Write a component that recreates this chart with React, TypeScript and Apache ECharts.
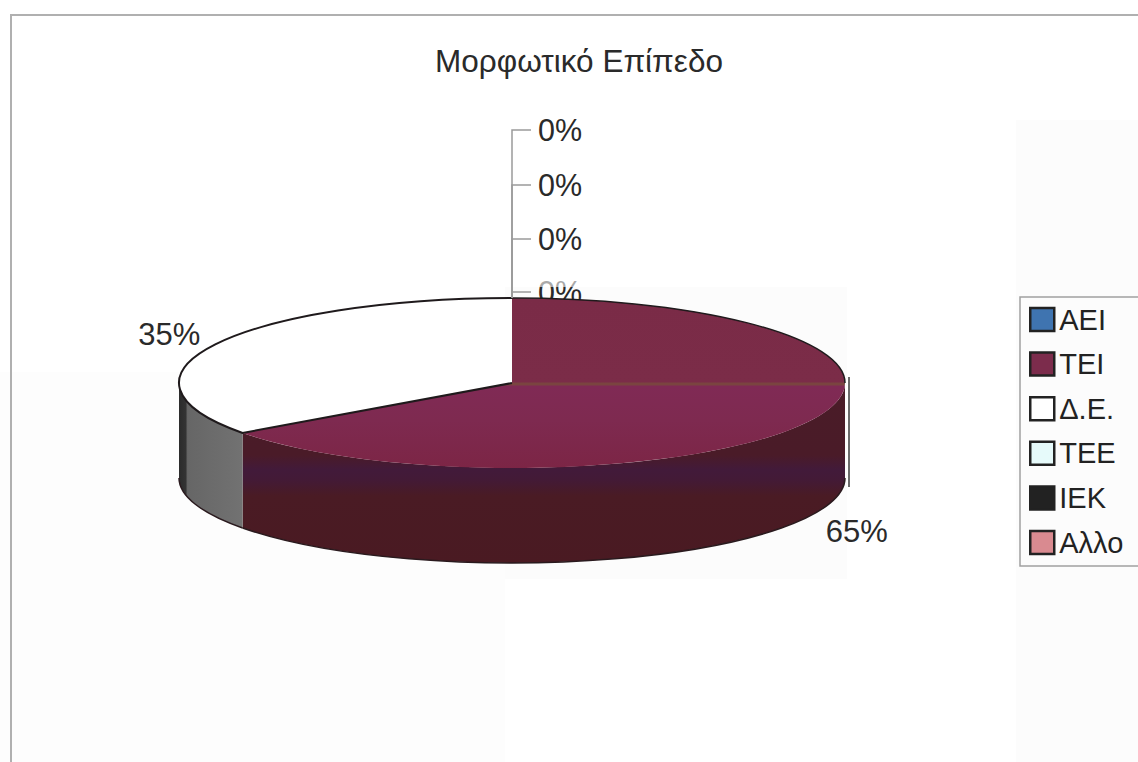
import React, { useEffect, useRef } from "react";
import * as echarts from "echarts";

// Education level shares, in percent
const categories = ["ΑΕΙ", "ΤΕΙ", "Δ.Ε.", "ΤΕΕ", "ΙΕΚ", "Αλλο"];
const shares = [0, 65, 35, 0, 0, 0];
const legendColors = ["#3f74b0", "#7c2c4c", "#ffffff", "#e6fafa", "#222222", "#d98a90"];
const chartTitle = "Μορφωτικό Επίπεδο";

// Disc geometry: a flattened circle with a front wall
const CX = 512;
const CY = 383;
const RX = 333;
const RY = 85;
const DEPTH = 95;
const FONT = "'Liberation Sans', Arial, sans-serif";
const zeroLabelYs = [292, 239, 185, 130];

const total = shares.reduce((a, b) => a + b, 0);
const rim = (deg: number, drop = 0): [number, number] => {
  const r = (deg * Math.PI) / 180;
  return [CX + RX * Math.sin(r), CY - RY * Math.cos(r) + drop];
};
const fmt = (p: [number, number]) => `${p[0].toFixed(2)} ${p[1].toFixed(2)}`;

const vGrad = (y0: number, y1: number, stops: [number, string][]) =>
  new echarts.graphic.LinearGradient(
    0, y0, 0, y1,
    stops.map(([y, color]) => ({ offset: (y - y0) / (y1 - y0), color })),
    true
  );

const maroonTop = () =>
  vGrad(298, 470, [
    [298, "#7a2b47"], [382, "#7b2c48"], [383, "#7a4440"], [385, "#7a4440"],
    [386, "#802a55"], [420, "#7e2a50"], [470, "#7c2545"],
  ]);
const maroonWall = () =>
  vGrad(380, 565, [
    [380, "#4a1c28"], [455, "#4a1b28"], [470, "#421a3a"], [480, "#431a36"],
    [496, "#4a1b24"], [565, "#4a1a22"],
  ]);
const greyWall = () =>
  new echarts.graphic.LinearGradient(
    180, 0, 243, 0,
    [
      { offset: 0, color: "#2c2c2c" },
      { offset: 0.09, color: "#333333" },
      { offset: 0.12, color: "#666666" },
      { offset: 1, color: "#727272" },
    ],
    true
  );

function renderSlice(index: number, api: any) {
  const value = api.value(0) as number;
  const start = (shares.slice(0, index).reduce((a, b) => a + b, 0) / total) * 360;
  const children: any[] = [];

  if (value === 0) {
    // Empty categories are listed on a leader above the disc
    const rank = shares.slice(0, index).filter((v) => v === 0).length;
    const y = zeroLabelYs[rank];
    children.push({
      type: "polyline",
      shape: { points: [[CX, CY - RY], [CX, y], [CX + 19, y]] },
      style: { stroke: "#9a9a9a", lineWidth: 1.5, fill: "none" },
    });
    children.push({
      type: "text",
      x: CX + 26,
      y,
      style: {
        text: `${value}%`, fontSize: 30.5, fontFamily: FONT, fill: "#2a2a2a",
        align: "left", verticalAlign: "middle",
      },
    });
    return { type: "group", children };
  }

  const end = start + (value / total) * 360;
  const large = end - start > 180 ? 1 : 0;
  const isFirstFilled = start === 0;

  // Front wall, only where the slice faces the viewer
  const a = Math.max(start, 90);
  const b = Math.min(end, 270);
  if (b > a) {
    children.push({
      type: "path",
      shape: {
        pathData:
          `M ${fmt(rim(a))} A ${RX} ${RY} 0 0 1 ${fmt(rim(b))} ` +
          `L ${fmt(rim(b, DEPTH))} A ${RX} ${RY} 0 0 0 ${fmt(rim(a, DEPTH))} Z`,
      },
      style: { fill: isFirstFilled ? maroonWall() : greyWall(), stroke: "none" },
    });
    children.push({
      type: "path",
      shape: { pathData: `M ${fmt(rim(a, DEPTH))} A ${RX} ${RY} 0 0 1 ${fmt(rim(b, DEPTH))}` },
      style: { fill: "none", stroke: "#2a1a1e", lineWidth: 1.5 },
    });
  }

  // Top face
  children.push({
    type: "path",
    shape: {
      pathData: `M ${CX} ${CY} L ${fmt(rim(start))} A ${RX} ${RY} 0 ${large} 1 ${fmt(rim(end))} Z`,
    },
    style: { fill: isFirstFilled ? maroonTop() : legendColors[index], stroke: "none" },
  });

  // Outline: the rim, and the radial edge unless it sits at twelve o'clock;
  // a slice that starts at twelve is outlined along its back half only
  const lineEnd = isFirstFilled ? Math.min(end, 90) : end;
  const lineLarge = lineEnd - start > 180 ? 1 : 0;
  const radial = isFirstFilled ? `M ${fmt(rim(start))}` : `M ${CX} ${CY} L ${fmt(rim(start))}`;
  children.push({
    type: "path",
    shape: { pathData: `${radial} A ${RX} ${RY} 0 ${lineLarge} 1 ${fmt(rim(lineEnd))}` },
    style: { fill: "none", stroke: "#1f1a1c", lineWidth: isFirstFilled ? 1.5 : 2 },
  });

  // Percentage label placed outside the slice's middle
  const mid = (start + end) / 2;
  const front = Math.abs(mid % 360) > 90 && Math.abs(mid % 360) < 270;
  const anchor = rim(mid, front ? DEPTH : 0);
  children.push({
    type: "text",
    x: anchor[0] + (Math.sin((mid * Math.PI) / 180) > 0 ? 48 : -46),
    y: anchor[1] + (front ? 15 : -10),
    style: {
      text: `${value}%`, fontSize: 31, fontFamily: FONT, fill: "#2a2a2a",
      align: "center", verticalAlign: "middle",
    },
  });
  return { type: "group", children };
}

export default function App() {
  const ref = useRef<HTMLDivElement>(null);

  useEffect(() => {
    const chart = echarts.init(ref.current!, undefined, { renderer: "svg" });
    chart.setOption({
      animation: false,
      backgroundColor: "#ffffff",
      title: {
        text: chartTitle,
        left: 574,
        top: 40,
        textAlign: "center",
        textStyle: { fontFamily: FONT, fontSize: 31.5, fontWeight: "normal", color: "#2a2a2a" },
      },
      legend: {
        orient: "vertical",
        left: 1029,
        top: 305,
        padding: 0,
        itemGap: 15.6,
        itemWidth: 24,
        itemHeight: 23,
        icon: "rect",
        data: categories,
        itemStyle: { borderColor: "#222222", borderWidth: 2.5 },
        textStyle: { fontFamily: FONT, fontSize: 29, color: "#222222" },
      },
      graphic: [
        {
          type: "rect", z: -10, silent: true,
          shape: { x: 1016, y: 120, width: 130, height: 650 },
          style: { fill: "#fcfcfc" },
        },
        {
          type: "rect", z: -10, silent: true,
          shape: { x: 0, y: 372, width: 505, height: 400 },
          style: { fill: "#fdfdfd" },
        },
        {
          type: "rect", z: -10, silent: true,
          shape: { x: 505, y: 287, width: 342, height: 292 },
          style: { fill: "#fcfcfc" },
        },
        {
          type: "polyline", silent: true,
          shape: { points: [[11, 770], [11, 15], [1146, 15]] },
          style: { stroke: "#b0b0b0", lineWidth: 2, fill: "none" },
        },
        {
          type: "rect", silent: true,
          shape: { x: 1020, y: 297, width: 130, height: 269 },
          style: { fill: "none", stroke: "#a0a0a0", lineWidth: 1.5 },
        },
        {
          type: "line", silent: true,
          shape: { x1: 849, y1: 377, x2: 849, y2: 487 },
          style: { stroke: "#3a3a3a", lineWidth: 1.5 },
        },
        {
          // Washed-out strip across the lowest label
          type: "rect", z: 20, silent: true,
          shape: { x: 530, y: 277, width: 70, height: 10 },
          style: { fill: "rgba(255,255,255,0.6)" },
        },
      ],
      series: categories.map((name, index) => ({
        type: "custom",
        name,
        coordinateSystem: "none",
        itemStyle: { color: legendColors[index] },
        data: [[shares[index]]],
        renderItem: (_p: any, api: any) => renderSlice(index, api),
      })),
    });
    return () => chart.dispose();
  }, []);

  return <div ref={ref} style={{ position: "fixed", left: 0, top: 0, width: 1138, height: 762 }} />;
}
